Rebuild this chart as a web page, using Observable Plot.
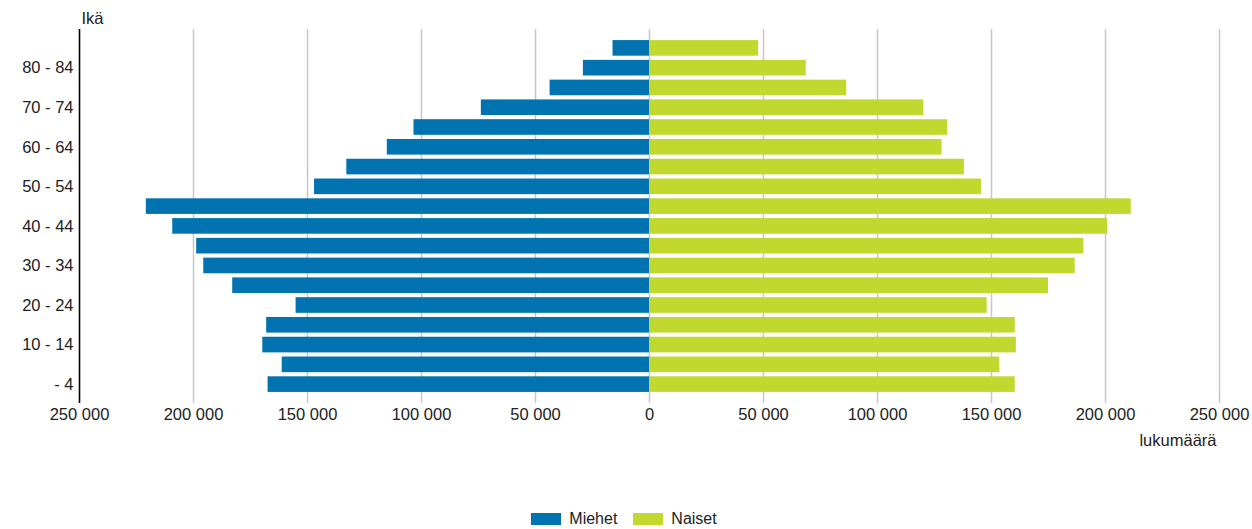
<!DOCTYPE html>
<html><head><meta charset="utf-8">
<script src="https://cdn.jsdelivr.net/npm/d3@7"></script>
<script src="https://cdn.jsdelivr.net/npm/@observablehq/plot@0.6"></script>
<style>
body{margin:0;background:#fff;font-family:"Liberation Sans",Arial,sans-serif;}
#chart{position:relative;width:1252px;height:529px;overflow:hidden;}
#legend{position:absolute;left:0;top:502px;width:1252px;display:flex;justify-content:center;}
</style></head><body><div id="chart"><div id="plot"></div><div id="legend"></div></div>
<script>
const ageGroups = ["85 -","80 - 84","75 - 79","70 - 74","65 - 69","60 - 64","55 - 59","50 - 54","45 - 49","40 - 44","35 - 39","30 - 34","25 - 29","20 - 24","15 - 19","10 - 14","5 - 9","- 4"];
const men   = [16000, 29000, 43600, 73750, 103300, 115000, 132750, 146900, 220700, 209100, 198600, 195500, 182800, 155000, 167900, 169600, 161100, 167300];
const women = [47850, 68750, 86500, 120300, 130800, 128300, 138100, 145600, 211300, 200900, 190500, 186700, 175000, 148100, 160400, 160900, 153600, 160400];
const xTicks = [-250000,-200000,-150000,-100000,-50000,0,50000,100000,150000,200000,250000];
const yTickLabels = ["80 - 84","70 - 74","60 - 64","50 - 54","40 - 44","30 - 34","20 - 24","10 - 14","- 4"];
const seriesNames = ["Miehet","Naiset"];
const colors = ["#0073b0","#c1d82f"];
const yTitle = "Ikä";
const xTitle = "lukumäärä";

const data = ageGroups.flatMap((a,i)=>[
  {age:a, sex:seriesNames[0], value:-men[i]},
  {age:a, sex:seriesNames[1], value:women[i]}
]);
const fmt = v => d3.format(",")(Math.abs(v)).replace(/,/g," ");
const font = "'Liberation Sans', Arial, sans-serif";

const plot = Plot.plot({
  width:1252, height:460, marginLeft:79, marginRight:33, marginTop:29, marginBottom:57,
  style:{fontSize:"16.5px", fontFamily:font, color:"#222", background:"transparent", overflow:"visible"},
  x:{domain:[-250000,250000]},
  y:{domain:ageGroups, paddingInner:0.21, paddingOuter:0.56, round:false},
  color:{domain:seriesNames, range:colors},
  marks:[
    Plot.gridX(xTicks,{stroke:"#c8c8c8", strokeOpacity:1, strokeWidth:1.5}),
    Plot.barX(data,{x:"value", y:"age", fill:"sex"}),
    Plot.ruleX([-250000],{stroke:"#000", strokeWidth:1.5}),
    Plot.axisX(xTicks,{tickSize:0, tickPadding:5, tickFormat:fmt, label:null}),
    Plot.axisY(yTickLabels,{tickSize:0, tickPadding:6, label:null}),
    Plot.text([yTitle],{frameAnchor:"top-left", dx:2, dy:-17, textAnchor:"start"}),
    Plot.text([xTitle],{frameAnchor:"bottom-right", dx:-3, dy:42, textAnchor:"end"})
  ]
});
document.getElementById("plot").appendChild(plot);

const legend = Plot.legend({
  color:{domain:seriesNames, range:colors},
  swatchWidth:30, swatchHeight:12,
  style:{fontSize:"16px", fontFamily:font, color:"#222", marginLeft:"12px"}
});
document.getElementById("legend").appendChild(legend);
</script>
</body></html>
